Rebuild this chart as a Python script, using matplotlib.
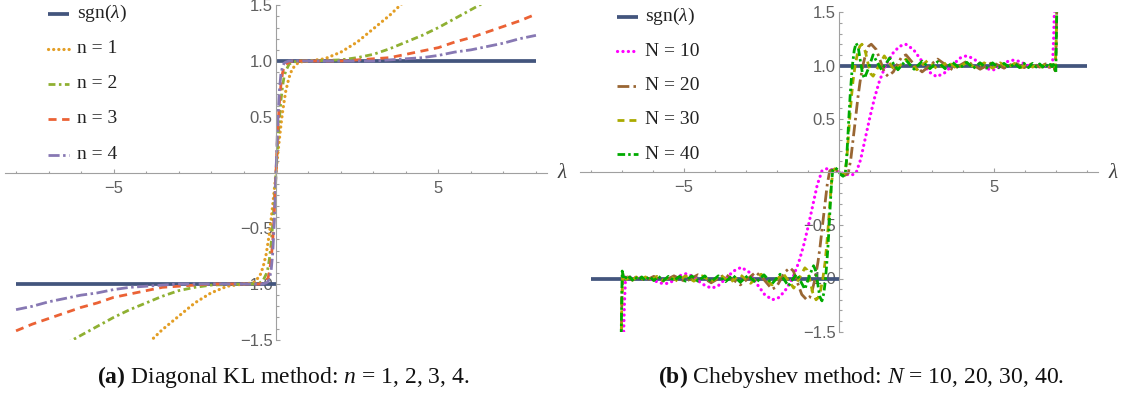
import matplotlib
matplotlib.use('Agg')
import matplotlib.pyplot as plt
from matplotlib.lines import Line2D
from matplotlib.ticker import FixedLocator, FixedFormatter, MultipleLocator
from matplotlib.transforms import Affine2D

plt.rcParams['font.family'] = ['Liberation Sans', 'DejaVu Sans']
plt.rcParams['mathtext.fontset'] = 'custom'
plt.rcParams['mathtext.rm'] = 'Liberation Serif'
plt.rcParams['mathtext.it'] = 'Liberation Serif:italic'
plt.rcParams['mathtext.bf'] = 'Liberation Serif:bold'
plt.rcParams['lines.scale_dashes'] = False

# ---------------- data: panel (a) ----------------
sgn_lam_neg = [-8.0, 0.0]
sgn_val_neg = [-1.0, -1.0]
sgn_lam_pos = [0.0, 8.0]
sgn_val_pos = [1.0, 1.0]

kl1_lam = [-4.0, -3.5, -3.0, -2.5, -2.0, -1.5, -1.0, -0.7, -0.5, -0.4, -0.3, -0.2, -0.15, -0.1, -0.05,
           0.0, 0.05, 0.1, 0.15, 0.2, 0.3, 0.4, 0.5, 0.7, 1.0, 1.5, 2.0, 2.5, 3.0, 3.5, 4.0]
kl1_val = [-1.55, -1.41, -1.29, -1.17, -1.08, -1.02, -1.0, -0.99, -0.93, -0.85, -0.73, -0.54, -0.42, -0.29, -0.15,
           0.0, 0.15, 0.29, 0.42, 0.54, 0.73, 0.85, 0.93, 0.99, 1.0, 1.02, 1.08, 1.17, 1.29, 1.41, 1.55]

kl2_lam = [-6.5, -6.0, -5.5, -5.0, -4.5, -4.0, -3.5, -3.0, -2.5, -2.0, -1.0, -0.7, -0.5, -0.4, -0.3, -0.25, -0.2, -0.15, -0.1, -0.05,
           0.0, 0.05, 0.1, 0.15, 0.2, 0.25, 0.3, 0.4, 0.5, 0.7, 1.0, 2.0, 2.5, 3.0, 3.5, 4.0, 4.5, 5.0, 5.5, 6.0, 6.5]
kl2_val = [-1.54, -1.46, -1.38, -1.30, -1.23, -1.17, -1.11, -1.06, -1.03, -1.01, -1.0, -1.0, -0.99, -0.97, -0.91, -0.86, -0.77, -0.64, -0.46, -0.25,
           0.0, 0.25, 0.46, 0.64, 0.77, 0.86, 0.91, 0.97, 0.99, 1.0, 1.0, 1.01, 1.03, 1.06, 1.11, 1.17, 1.23, 1.30, 1.38, 1.46, 1.54]

kl3_lam = [-8.0, -7.5, -7.0, -6.5, -6.0, -5.5, -5.0, -4.5, -4.0, -3.5, -3.0, -2.5, -2.0, -1.0, -0.5, -0.4, -0.3, -0.25, -0.2, -0.15, -0.1, -0.05,
           0.0, 0.05, 0.1, 0.15, 0.2, 0.25, 0.3, 0.4, 0.5, 1.0, 2.0, 2.5, 3.0, 3.5, 4.0, 4.5, 5.0, 5.5, 6.0, 6.5, 7.0, 7.5, 8.0]
kl3_val = [-1.42, -1.36, -1.31, -1.26, -1.21, -1.17, -1.12, -1.09, -1.06, -1.03, -1.02, -1.01, -1.0, -1.0, -1.0, -0.99, -0.97, -0.95, -0.89, -0.78, -0.61, -0.34,
           0.0, 0.34, 0.61, 0.78, 0.89, 0.95, 0.97, 0.99, 1.0, 1.0, 1.0, 1.01, 1.02, 1.03, 1.06, 1.09, 1.12, 1.17, 1.21, 1.26, 1.31, 1.36, 1.42]

kl4_lam = [-8.0, -7.5, -7.0, -6.5, -6.0, -5.5, -5.0, -4.5, -4.0, -3.5, -3.0, -1.0, -0.4, -0.3, -0.25, -0.2, -0.15, -0.1, -0.05,
           0.0, 0.05, 0.1, 0.15, 0.2, 0.25, 0.3, 0.4, 1.0, 3.0, 3.5, 4.0, 4.5, 5.0, 5.5, 6.0, 6.5, 7.0, 7.5, 8.0]
kl4_val = [-1.23, -1.20, -1.16, -1.13, -1.10, -1.08, -1.05, -1.03, -1.02, -1.01, -1.0, -1.0, -1.0, -0.99, -0.98, -0.95, -0.88, -0.72, -0.42,
           0.0, 0.42, 0.72, 0.88, 0.95, 0.98, 0.99, 1.0, 1.0, 1.0, 1.01, 1.02, 1.03, 1.05, 1.08, 1.10, 1.13, 1.16, 1.20, 1.23]

# ---------------- data: panel (b), (lambda, value) pairs ----------------
ch10_neg = [(-6.96, -1.7), (-6.92, -1.25), (-6.88, -0.98), (-6.82, -0.98), (-6.66, -0.995), (-6.45, -0.99),
            (-6.27, -0.99), (-6.1, -1.0), (-5.95, -1.02), (-5.8, -1.04), (-5.62, -1.05), (-5.45, -1.04),
            (-5.3, -1.01), (-5.1, -0.97), (-4.93, -0.955), (-4.7, -0.98), (-4.5, -1.03), (-4.3, -1.07),
            (-4.1, -1.09), (-3.9, -1.07), (-3.65, -1.0), (-3.4, -0.93), (-3.15, -0.895), (-2.9, -0.94),
            (-2.65, -1.05), (-2.4, -1.15), (-2.15, -1.2), (-1.95, -1.18), (-1.75, -1.12), (-1.5, -1.0),
            (-1.3, -0.85), (-1.15, -0.7), (-1.0, -0.52), (-0.85, -0.32), (-0.7, -0.12), (-0.55, 0.01),
            (-0.4, 0.03), (-0.2, 0.02)]
ch10_pos = [(0.0, 0.0), (0.2, -0.02), (0.4, -0.03), (0.55, -0.01), (0.7, 0.12), (0.85, 0.32), (1.0, 0.52),
            (1.15, 0.7), (1.3, 0.85), (1.5, 1.0), (1.75, 1.12), (1.95, 1.18), (2.15, 1.2), (2.4, 1.15),
            (2.65, 1.05), (2.9, 0.94), (3.15, 0.895), (3.4, 0.93), (3.65, 1.0), (3.9, 1.07), (4.1, 1.09),
            (4.3, 1.07), (4.5, 1.03), (4.7, 0.98), (4.93, 0.955), (5.1, 0.97), (5.3, 1.01), (5.45, 1.04),
            (5.62, 1.05), (5.8, 1.04), (5.95, 1.02), (6.1, 1.0), (6.27, 0.99), (6.45, 0.99), (6.66, 0.995),
            (6.82, 0.98), (6.88, 0.98), (6.92, 1.25), (6.96, 1.7)]

ch20_neg = [(-7.03, -1.7), (-7.0, -1.2), (-6.97, -0.95), (-6.91, -1.01), (-6.81, -0.985), (-6.66, -1.015),
            (-6.47, -0.985), (-6.24, -1.02), (-5.97, -0.98), (-5.66, -1.025), (-5.32, -0.975), (-4.95, -1.03),
            (-4.55, -0.965), (-4.12, -1.04), (-3.66, -0.96), (-3.18, -1.06), (-2.93, -1.0), (-2.68, -0.94),
            (-2.42, -1.01), (-2.16, -1.1), (-2.02, -1.08), (-1.88, -1.01), (-1.75, -0.94), (-1.58, -0.9),
            (-1.47, -0.93), (-1.35, -1.03), (-1.2, -1.15), (-1.04, -1.2), (-0.95, -1.18), (-0.87, -1.12),
            (-0.77, -1.0), (-0.68, -0.85), (-0.61, -0.7), (-0.54, -0.52), (-0.46, -0.32), (-0.38, -0.12),
            (-0.3, 0.01), (-0.2, 0.03), (-0.1, 0.02)]
ch20_pos = [(0.0, 0.0), (0.1, -0.02), (0.2, -0.03), (0.3, -0.01), (0.38, 0.12), (0.46, 0.32), (0.54, 0.52),
            (0.61, 0.7), (0.68, 0.85), (0.77, 1.0), (0.87, 1.12), (0.95, 1.18), (1.04, 1.2), (1.2, 1.15),
            (1.35, 1.03), (1.47, 0.93), (1.58, 0.9), (1.75, 0.94), (1.88, 1.01), (2.02, 1.08), (2.16, 1.1),
            (2.42, 1.01), (2.68, 0.94), (2.93, 1.0), (3.18, 1.06), (3.66, 0.96), (4.12, 1.04), (4.55, 0.965),
            (4.95, 1.03), (5.32, 0.975), (5.66, 1.025), (5.97, 0.98), (6.24, 1.02), (6.47, 0.985),
            (6.66, 1.015), (6.81, 0.985), (6.91, 1.01), (6.97, 0.95), (7.0, 1.2), (7.03, 1.7)]

ch30_neg = [(-7.03, -1.7), (-7.0, -1.2), (-6.97, -0.95), (-6.91, -0.99), (-6.85, -1.01), (-6.76, -0.985),
            (-6.66, -1.015), (-6.54, -0.985), (-6.4, -1.015), (-6.24, -0.985), (-6.06, -1.02), (-5.87, -0.98),
            (-5.66, -1.02), (-5.44, -0.98), (-5.2, -1.025), (-4.95, -0.975), (-4.68, -1.025), (-4.41, -0.975),
            (-4.12, -1.03), (-3.81, -0.97), (-3.5, -1.035), (-3.18, -0.965), (-2.85, -1.045), (-2.51, -0.96),
            (-2.16, -1.06), (-1.81, -0.95), (-1.63, -1.02), (-1.46, -1.09), (-1.27, -0.99), (-1.1, -0.9),
            (-1.03, -0.92), (-0.95, -1.0), (-0.85, -1.13), (-0.74, -1.2), (-0.67, -1.18), (-0.6, -1.12),
            (-0.52, -1.0), (-0.45, -0.85), (-0.4, -0.7), (-0.35, -0.52), (-0.3, -0.32), (-0.25, -0.12),
            (-0.19, 0.01), (-0.14, 0.03), (-0.07, 0.02)]
ch30_pos = [(0.0, 0.0), (0.07, -0.02), (0.14, -0.03), (0.19, -0.01), (0.25, 0.12), (0.3, 0.32), (0.35, 0.52),
            (0.4, 0.7), (0.45, 0.85), (0.52, 1.0), (0.6, 1.12), (0.67, 1.18), (0.74, 1.2), (0.85, 1.13),
            (0.95, 1.0), (1.03, 0.92), (1.1, 0.9), (1.27, 0.99), (1.46, 1.09), (1.63, 1.02), (1.81, 0.95),
            (2.16, 1.06), (2.51, 0.96), (2.85, 1.045), (3.18, 0.965), (3.5, 1.035), (3.81, 0.97), (4.12, 1.03),
            (4.41, 0.975), (4.68, 1.025), (4.95, 0.975), (5.2, 1.025), (5.44, 0.98), (5.66, 1.02), (5.87, 0.98),
            (6.06, 1.02), (6.24, 0.985), (6.4, 1.015), (6.54, 0.985), (6.66, 1.015), (6.76, 0.985),
            (6.85, 1.01), (6.91, 0.99), (6.97, 0.95), (7.0, 1.2), (7.03, 1.7)]

ch40_neg = [(-7.03, -1.7), (-7.01, -1.3), (-6.99, -0.93), (-6.96, -0.97), (-6.91, -1.01), (-6.87, -0.99),
            (-6.81, -1.01), (-6.74, -0.985), (-6.66, -1.015), (-6.57, -0.985), (-6.47, -1.015), (-6.36, -0.985),
            (-6.24, -1.02), (-6.11, -0.98), (-5.97, -1.02), (-5.82, -0.98), (-5.66, -1.02), (-5.5, -0.98),
            (-5.32, -1.02), (-5.14, -0.98), (-4.95, -1.025), (-4.75, -0.975), (-4.55, -1.025), (-4.33, -0.975),
            (-4.12, -1.03), (-3.89, -0.975), (-3.66, -1.03), (-3.42, -0.97), (-3.18, -1.035), (-2.93, -0.97),
            (-2.68, -1.04), (-2.42, -0.965), (-2.16, -1.05), (-1.9, -0.96), (-1.77, -1.01), (-1.63, -1.07),
            (-1.5, -1.01), (-1.37, -0.96), (-1.23, -1.03), (-1.1, -1.1), (-0.96, -0.98), (-0.82, -0.88),
            (-0.76, -0.92), (-0.69, -1.04), (-0.62, -1.17), (-0.55, -1.21), (-0.49, -1.14), (-0.44, -1.02),
            (-0.4, -0.88), (-0.36, -0.72), (-0.32, -0.52), (-0.28, -0.3), (-0.24, -0.1), (-0.2, 0.02),
            (-0.13, 0.04), (-0.06, 0.025)]
ch40_pos = [(0.0, 0.0), (0.06, -0.025), (0.13, -0.04), (0.2, -0.02), (0.24, 0.1), (0.28, 0.3), (0.32, 0.52),
            (0.36, 0.72), (0.4, 0.88), (0.44, 1.02), (0.49, 1.14), (0.55, 1.21), (0.62, 1.17), (0.69, 1.04),
            (0.76, 0.92), (0.82, 0.88), (0.96, 0.98), (1.1, 1.1), (1.23, 1.03), (1.37, 0.96), (1.5, 1.01),
            (1.63, 1.07), (1.77, 1.01), (1.9, 0.96), (2.16, 1.05), (2.42, 0.965), (2.68, 1.04), (2.93, 0.97),
            (3.18, 1.035), (3.42, 0.97), (3.66, 1.03), (3.89, 0.975), (4.12, 1.03), (4.33, 0.975),
            (4.55, 1.025), (4.75, 0.975), (4.95, 1.025), (5.14, 0.98), (5.32, 1.02), (5.5, 0.98), (5.66, 1.02),
            (5.82, 0.98), (5.97, 1.02), (6.11, 0.98), (6.24, 1.02), (6.36, 0.985), (6.47, 1.015), (6.57, 0.985),
            (6.66, 1.015), (6.74, 0.985), (6.81, 1.01), (6.87, 0.99), (6.91, 1.01), (6.96, 0.97), (6.99, 0.93),
            (7.01, 1.3), (7.03, 1.7)]

xtick_major = [-5, 5]
xtick_labels = ['\u22125', '5']
ytick_major = [-1.5, -1.0, -0.5, 0.5, 1.0, 1.5]
ytick_labels = ['\u22121.5', '\u22121.0', '\u22120.5', '0.5', '1.0', '1.5']

legend_a = ['sgn($\\lambda$)', 'n = 1', 'n = 2', 'n = 3', 'n = 4']
legend_b = ['sgn($\\lambda$)', 'N = 10', 'N = 20', 'N = 30', 'N = 40']
caption_a = r'$\mathbf{(a)}$ Diagonal KL method: $n$ = 1, 2, 3, 4.'
caption_b = r'$\mathbf{(b)}$ Chebyshev method: $N$ = 10, 20, 30, 40.'

# ---------------- styles ----------------
SGN = dict(color='#43557D', lw=2.7, solid_capstyle='butt')
STY_A = [
    dict(color='#E39E25', lw=2.3, linestyle=(0, (0.1, 3.6)), dash_capstyle='round'),
    dict(color='#8FB032', lw=2.0, linestyle=(0, (5.0, 2.5, 1.8, 2.5))),
    dict(color='#EB6235', lw=2.0, linestyle=(0, (5.8, 4.0))),
    dict(color='#8778B3', lw=2.0, linestyle=(0, (8.0, 2.5, 1.8, 2.5))),
]
STY_B = [
    dict(color='#FF00FF', lw=2.3, linestyle=(0, (0.1, 3.8)), dash_capstyle='round'),
    dict(color='#996633', lw=2.0, linestyle=(0, (8.5, 3.0, 1.8, 3.0))),
    dict(color='#AAAA00', lw=2.0, linestyle=(0, (5.0, 3.6))),
    dict(color='#00AA00', lw=2.0, linestyle=(0, (5.5, 2.2, 1.8, 2.2))),
]
AXIS_COLOR = '#A0A0A0'
LABEL_COLOR = '#5F5F5F'

W, H = 1121, 403
fig = plt.figure(figsize=(W / 100, H / 100), dpi=100)
PX = Affine2D().scale(1.0 / W, -1.0 / H).translate(0, 1) + fig.transFigure


def px_axes(x0, x1, ytop, ybot):
    return fig.add_axes([x0 / W, 1 - ybot / H, (x1 - x0) / W, (ybot - ytop) / H])


def style_axes(ax, xlim):
    ax.set_xlim(*xlim)
    ax.set_ylim(-1.5, 1.5)
    for s in ['top', 'right']:
        ax.spines[s].set_visible(False)
    for s in ['left', 'bottom']:
        ax.spines[s].set_position(('data', 0))
        ax.spines[s].set_color(AXIS_COLOR)
        ax.spines[s].set_linewidth(0.8)
    ax.patch.set_visible(False)
    ax.set_axisbelow(True)
    ax.xaxis.set_major_locator(FixedLocator(xtick_major))
    ax.xaxis.set_major_formatter(FixedFormatter(xtick_labels))
    ax.xaxis.set_minor_locator(MultipleLocator(1))
    ax.yaxis.set_major_locator(FixedLocator(ytick_major))
    ax.yaxis.set_major_formatter(FixedFormatter(ytick_labels))
    ax.yaxis.set_minor_locator(MultipleLocator(0.1))
    ax.tick_params(which='both', direction='in', color=AXIS_COLOR, width=0.8,
                   labelcolor=LABEL_COLOR, labelsize=12)
    ax.tick_params(which='major', length=3.2)
    ax.tick_params(which='minor', length=1.8)
    ax.tick_params(axis='x', which='major', pad=6)
    ax.tick_params(axis='y', which='major', pad=2.5)
    ax.annotate('$\\lambda$', xy=(1, 0), xycoords=('axes fraction', 'data'),
                xytext=(11, 0), textcoords='offset points', ha='center', va='center',
                fontsize=15, color='#404040')


axL = px_axes(5, 547, 5.25, 339.75)
axR = px_axes(580, 1098, 12.25, 331.75)
style_axes(axL, (-8.34, 8.34))
style_axes(axR, (-8.35, 8.35))

for ax in (axL, axR):
    ax.plot(sgn_lam_neg, sgn_val_neg, **SGN)
    ax.plot(sgn_lam_pos, sgn_val_pos, **SGN)

# panel (a)
for (lam, val), st in zip([(kl1_lam, kl1_val), (kl2_lam, kl2_val), (kl3_lam, kl3_val), (kl4_lam, kl4_val)], STY_A):
    axL.plot(lam, val, **st)

# panel (b)
for (neg, pos), st in zip([(ch10_neg, ch10_pos), (ch20_neg, ch20_pos), (ch30_neg, ch30_pos), (ch40_neg, ch40_pos)], STY_B):
    pts = neg + pos
    lam = [p[0] for p in pts]
    val = [p[1] for p in pts]
    axR.plot(lam, val, **st)


def legend(x0, x1, xt, rows, labels, styles):
    for y, lab, st in zip(rows, labels, [SGN] + styles):
        fig.add_artist(Line2D([x0, x1], [y, y], transform=PX, **st))
        fig.text(xt / W, 1 - y / H, lab, ha='left', va='center', fontsize=14,
                 family='Liberation Serif', color='#222222')


legend(48, 69, 77, [13.5, 48.5, 83.5, 118.5, 154.5], legend_a, STY_A)
legend(617, 638, 645, [16.5, 51, 85.5, 119.5, 154], legend_b, STY_B)

fig.text(283 / W, 1 - 383 / H, caption_a, ha='center', va='baseline', fontsize=17,
         family='Liberation Serif', color='#111111')
fig.text(861 / W, 1 - 383 / H, caption_b, ha='center', va='baseline', fontsize=17,
         family='Liberation Serif', color='#111111')

fig.savefig('out.png', dpi=100)
